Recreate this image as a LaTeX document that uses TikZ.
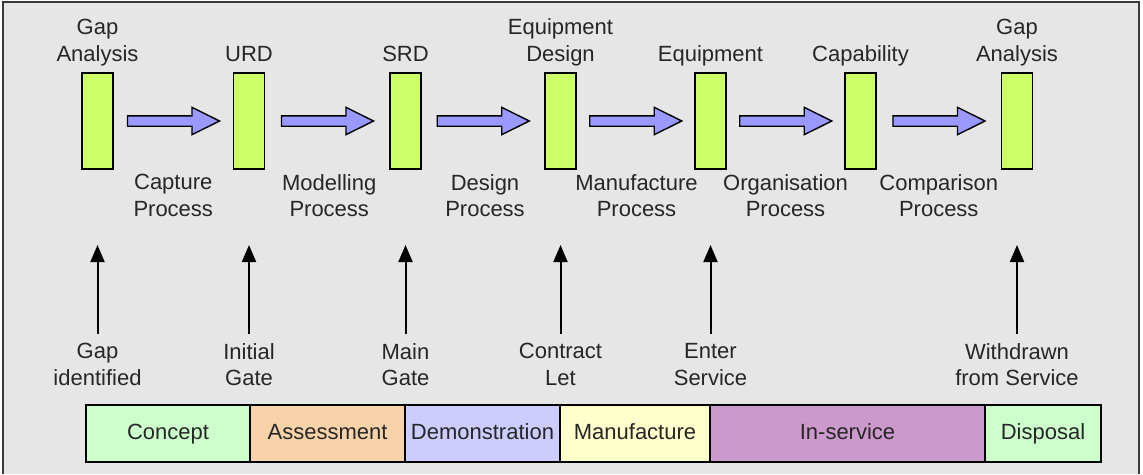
\documentclass[tikz,border=0pt]{standalone}
\usepackage{fontspec}
\setmainfont{Liberation Sans}
\usetikzlibrary{calc,positioning,shapes.arrows,arrows.meta}

\definecolor{panel}{HTML}{E6E6E6}
\definecolor{framegray}{HTML}{3A3A3A}
\definecolor{docgreen}{HTML}{CCFF66}
\definecolor{flowblue}{HTML}{9999FF}
\definecolor{conceptgreen}{HTML}{CCFFCC}
\definecolor{assesstan}{HTML}{F8D3AA}
\definecolor{demoblue}{HTML}{CCCCFF}
\definecolor{manuyellow}{HTML}{FFFFCC}
\definecolor{servicepink}{HTML}{CC99CC}
\definecolor{inktext}{HTML}{262626}

\tikzset{
  doc/.style={draw, line width=1.6pt, fill=docgreen, minimum width=31pt,
    minimum height=96pt, inner sep=0pt},
  flow/.style={single arrow, draw, line width=1.4pt, fill=flowblue,
    minimum height=92pt, inner xsep=0pt, inner ysep=4.5pt,
    single arrow head extend=8.5pt, single arrow tip angle=53},
  lbl/.style={align=center, inner sep=0pt, text=inktext,
    font=\fontsize{22}{26.7}\selectfont},
  milestone/.style={-{Triangle[length=17pt,width=14pt]}, line width=2pt},
  phase/.style={draw, line width=1.8pt, minimum height=57pt, inner sep=0pt,
    outer sep=0pt, text height=16pt, text depth=4.6pt, text=inktext,
    font=\fontsize{22}{26.7}\selectfont},
}

\begin{document}
\begin{tikzpicture}[x=1pt,y=-1pt]
  \useasboundingbox (0,0) rectangle (1143,474);

  % panel
  \fill[panel] (3,2) rectangle (1139,474);
  \draw[framegray, line width=1.8pt] (3,474) -- (3,2) -- (1139,2) -- (1139,474);

  % products
  \node[doc] (b1) at (97.5,121) {};
  \node[doc] (b2) at (249,121) {};
  \node[doc] (b3) at (405.5,121) {};
  \node[doc] (b4) at (560.5,121) {};
  \node[doc] (b5) at (710.5,121) {};
  \node[doc] (b6) at (860.5,121) {};
  \node[doc] (b7) at (1017,121) {};

  \node[lbl, anchor=base] (t1) at ([yshift=11pt]b1.north) {Gap\\Analysis};
  \node[lbl, anchor=base] (t2) at ([yshift=11pt]b2.north) {URD};
  \node[lbl, anchor=base] (t3) at ([yshift=11pt]b3.north) {SRD};
  \node[lbl, anchor=base] (t4) at ([yshift=11pt]b4.north) {Equipment\\Design};
  \node[lbl, anchor=base] (t5) at ([yshift=11pt]b5.north) {Equipment};
  \node[lbl, anchor=base] (t6) at ([yshift=11pt]b6.north) {Capability};
  \node[lbl, anchor=base] (t7) at ([yshift=11pt]b7.north) {Gap\\Analysis};

  % processes between products
  \node[flow] (f1) at ($(b1.east)!.5!(b2.west)+(-5,0)$) {};
  \node[flow] (f2) at ($(b2.east)!.5!(b3.west)+(-5,0)$) {};
  \node[flow] (f3) at ($(b3.east)!.5!(b4.west)+(-5,0)$) {};
  \node[flow] (f4) at ($(b4.east)!.5!(b5.west)+(-5,0)$) {};
  \node[flow] (f5) at ($(b5.east)!.5!(b6.west)+(-5,0)$) {};
  \node[flow] (f6) at ($(b6.east)!.5!(b7.west)+(-5,0)$) {};

  \node[lbl, anchor=north] (p1) at ($(b1.east)!.5!(b2.west)+(0,53)$) {Capture\\Process};
  \node[lbl, anchor=north] (p2) at ($(b2.east)!.5!(b3.west)+(2,53)$) {Modelling\\Process};
  \node[lbl, anchor=north] (p3) at ($(b3.east)!.5!(b4.west)+(2,53)$) {Design\\Process};
  \node[lbl, anchor=north] (p4) at ($(b4.east)!.5!(b5.west)+(1,53)$) {Manufacture\\Process};
  \node[lbl, anchor=north] (p5) at ($(b5.east)!.5!(b6.west)+(0,53)$) {Organisation\\Process};
  \node[lbl, anchor=north] (p6) at ($(b6.east)!.5!(b7.west)+(0,53)$) {Comparison\\Process};

  % milestones
  \node[lbl, anchor=north] (m1) at (b1 |- 0,343) {Gap\\identified};
  \node[lbl, anchor=north] (m2) at (b2 |- 0,343) {Initial\\Gate};
  \node[lbl, anchor=north] (m3) at (b3 |- 0,343) {Main\\Gate};
  \node[lbl, anchor=north] (m4) at (b4 |- 0,343) {Contract\\Let};
  \node[lbl, anchor=north] (m5) at (b5 |- 0,343) {Enter\\Service};
  \node[lbl, anchor=north] (m6) at (b7 |- 0,343) {Withdrawn\\from Service};

  \coordinate (g1) at (b1 |- 0,245);
  \coordinate (g2) at (b2 |- 0,245);
  \coordinate (g3) at (b3 |- 0,245);
  \coordinate (g4) at (b4 |- 0,245);
  \coordinate (g5) at (b5 |- 0,245);
  \coordinate (g6) at (b7 |- 0,245);

  \draw[milestone, shorten <=9pt] (m1) -- (g1);
  \draw[milestone, shorten <=9pt] (m2) -- (g2);
  \draw[milestone, shorten <=9pt] (m3) -- (g3);
  \draw[milestone, shorten <=9pt] (m4) -- (g4);
  \draw[milestone, shorten <=9pt] (m5) -- (g5);
  \draw[milestone, shorten <=9pt] (m6) -- (g6);

  % life cycle phases
  \node[phase, fill=conceptgreen, minimum width=164pt] (concept) at (168,433.5) {Concept};
  \node[phase, fill=assesstan, minimum width=155pt, right=0pt of concept] (assess) {Assessment};
  \node[phase, fill=demoblue, minimum width=155pt, right=0pt of assess] (demo) {Demonstration};
  \node[phase, fill=manuyellow, minimum width=150pt, right=0pt of demo] (manuf) {Manufacture};
  \node[phase, fill=servicepink, minimum width=275pt, right=0pt of manuf] (service) {In-service};
  \node[phase, fill=conceptgreen, minimum width=116pt, right=0pt of service] (disposal) {Disposal};
\end{tikzpicture}
\end{document}
